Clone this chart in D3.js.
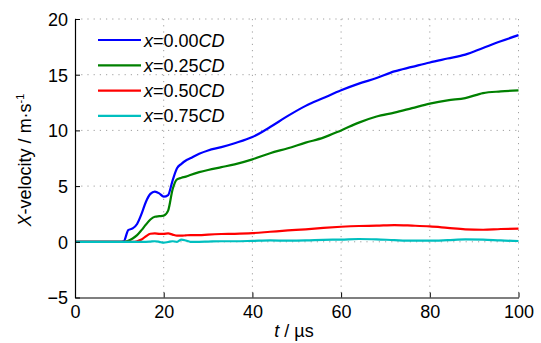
<!DOCTYPE html>
<html>
<head>
<meta charset="utf-8">
<script src="https://cdn.jsdelivr.net/npm/d3@7"></script>
<style>
  body { margin: 0; background: #fff; }
  svg { display: block; font-family: Arial, "Liberation Sans", sans-serif; }
</style>
</head>
<body>
<svg id="chart" width="541" height="343"></svg>
<script>
// time samples (us)
var T = [0, 10, 11, 12, 13, 14, 15, 16, 17, 18, 19, 20, 21, 22, 23, 24, 25, 26, 28, 30,
         33, 36, 40, 44, 48, 52, 56, 60, 64, 68, 72, 76, 80, 84, 88, 92, 96, 100];

// x = 0.00CD
var V000 = [0, 0, 0.05, 1.05, 1.2, 1.6, 2.5, 3.6, 4.3, 4.5, 4.35, 4.05, 4.2, 5.5, 6.6, 7.0, 7.3, 7.5, 7.9, 8.2,
            8.5, 8.85, 9.4, 10.3, 11.3, 12.2, 12.9, 13.6, 14.2, 14.7, 15.3, 15.7, 16.1, 16.45, 16.8, 17.4, 18.0, 18.55];
// x = 0.25CD
var V025 = [0, 0, 0, 0.1, 0.3, 0.6, 1.05, 1.55, 2.0, 2.25, 2.3, 2.35, 2.8, 4.7, 5.6, 5.75, 5.85, 6.0, 6.25, 6.45,
            6.7, 6.95, 7.4, 7.95, 8.4, 8.9, 9.35, 10.0, 10.7, 11.25, 11.6, 12.0, 12.4, 12.7, 12.9, 13.35, 13.5, 13.6];
// x = 0.50CD
var V050 = [0, 0, 0, 0, 0, 0.05, 0.2, 0.5, 0.72, 0.75, 0.72, 0.72, 0.75, 0.65, 0.55, 0.55, 0.58, 0.6, 0.6, 0.65,
            0.7, 0.72, 0.78, 0.9, 1.02, 1.12, 1.25, 1.35, 1.42, 1.45, 1.5, 1.45, 1.38, 1.25, 1.12, 1.08, 1.15, 1.18];
// x = 0.75CD
var V075 = [0, 0, 0, 0, 0, 0, 0, 0, 0.02, 0.05, 0, -0.08, -0.02, 0.05, 0, 0.2, 0.12, 0, 0, 0.02,
            0.05, 0.05, 0.08, 0.12, 0.1, 0.12, 0.18, 0.2, 0.25, 0.22, 0.15, 0.1, 0.1, 0.15, 0.22, 0.2, 0.12, 0.07];

var LABELS = ["0.00", "0.25", "0.50", "0.75"];
var COLORS = ["#0000ff", "#008000", "#ff0000", "#00bfbf"];
var SERIES = [V000, V025, V050, V075];

var X_TICKS = [0, 20, 40, 60, 80, 100];
var Y_TICKS = [-5, 0, 5, 10, 15, 20];

var LEFT = 75, RIGHT = 518.5, TOP = 19, BOTTOM = 297.5;
var FONT = 18;

var svg = d3.select("#chart");

var x = d3.scaleLinear().domain([0, 100]).range([LEFT, RIGHT]);
var y = d3.scaleLinear().domain([-5, 20]).range([BOTTOM, TOP]);

// dotted grid
var grid = svg.append("g").attr("class", "grid")
              .attr("stroke", "#a0a0a0")
              .attr("stroke-width", 1)
              .attr("stroke-dasharray", "1.2,5");
X_TICKS.filter(function(d) { return d > 0; }).forEach(function(d) {
  grid.append("line")
      .attr("x1", x(d)).attr("x2", x(d))
      .attr("y1", TOP).attr("y2", BOTTOM);
});
Y_TICKS.filter(function(d) { return d > -5; }).forEach(function(d) {
  grid.append("line")
      .attr("x1", LEFT).attr("x2", RIGHT)
      .attr("y1", y(d)).attr("y2", y(d));
});

// series
var line = d3.line()
             .x(function(d, i) { return x(T[i]); })
             .y(function(d) { return y(d); })
             .curve(d3.curveMonotoneX);

SERIES.forEach(function(s, k) {
  svg.append("path")
     .datum(s)
     .attr("d", line)
     .attr("fill", "none")
     .attr("stroke", COLORS[k])
     .attr("stroke-width", 2.2)
     .attr("stroke-linejoin", "round");
});

// axes (ticks pointing inward)
var xAxis = svg.append("g")
               .attr("transform", "translate(0," + BOTTOM + ")")
               .call(d3.axisBottom(x).tickValues(X_TICKS).tickSize(-5).tickSizeOuter(0).tickPadding(8));
var yAxis = svg.append("g")
               .attr("transform", "translate(" + LEFT + ",0)")
               .call(d3.axisLeft(y).tickValues(Y_TICKS).tickSize(-5).tickSizeOuter(0).tickPadding(7));

[xAxis, yAxis].forEach(function(a) {
  a.attr("font-size", FONT).attr("font-family", null);
  a.select(".domain").attr("stroke", "#000").attr("stroke-width", 1.2);
  a.selectAll(".tick line").attr("stroke", "#000");
  a.selectAll(".tick text").attr("fill", "#000");
});
yAxis.selectAll(".tick text").attr("dy", "0.36em");

// axis labels
var xl = svg.append("text")
            .attr("x", 294).attr("y", 337)
            .attr("text-anchor", "middle")
            .attr("font-size", FONT);
xl.append("tspan").attr("font-style", "italic").text("t");
xl.append("tspan").text(" / \u00b5s");

var yl = svg.append("text")
            .attr("transform", "translate(31,160) rotate(-90)")
            .attr("text-anchor", "middle")
            .attr("font-size", FONT);
yl.append("tspan").attr("font-style", "italic").text("X");
yl.append("tspan").text("-velocity / m\u00b7s");
yl.append("tspan").attr("font-size", 11).attr("dy", -7).text("-1");

// legend
var legend = svg.append("g").attr("class", "legend");
LABELS.forEach(function(lab, k) {
  var cy = 40 + k * 25.3;
  legend.append("line")
        .attr("x1", 98).attr("x2", 141)
        .attr("y1", cy).attr("y2", cy)
        .attr("stroke", COLORS[k])
        .attr("stroke-width", 2.2);
  var t = legend.append("text")
                .attr("x", 144).attr("y", cy + 6.5)
                .attr("font-size", FONT);
  t.append("tspan").attr("font-style", "italic").text("x");
  t.append("tspan").text("=" + lab);
  t.append("tspan").attr("font-style", "italic").text("CD");
});
</script>
</body>
</html>
